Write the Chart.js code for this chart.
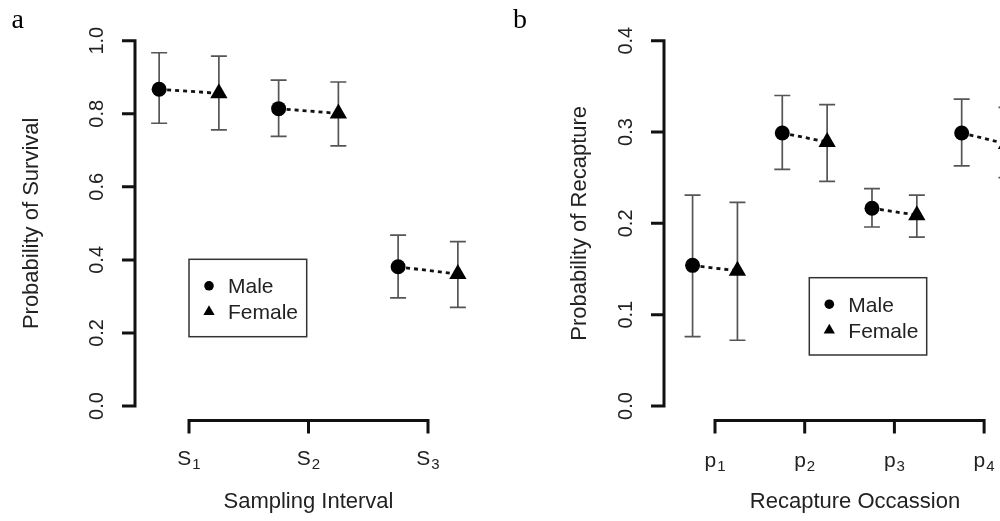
<!DOCTYPE html>
<html><head><meta charset="utf-8">
<script src="https://cdn.jsdelivr.net/npm/chart.js@4.4.1/dist/chart.umd.min.js"></script>
<style>
html,body{margin:0;padding:0;background:#fff;}
#wrap{position:relative;width:1000px;height:521px;overflow:hidden;background:#fff;}
canvas{position:absolute;top:0;}
</style></head><body>
<div id="wrap">
<canvas id="ca" width="500" height="521" style="left:0;width:500px;height:521px"></canvas>
<canvas id="cb" width="570" height="521" style="left:500px;width:570px;height:521px"></canvas>
</div>
<script>
// ---- Panel a: survival ----
const intervalPos = [1, 2, 3];
const intervalBase = ['S', 'S', 'S'];
const intervalSub = ['1', '2', '3'];
const survMale = [0.867, 0.814, 0.381];
const survMaleLo = [0.774, 0.738, 0.296];
const survMaleHi = [0.967, 0.892, 0.468];
const survFemale = [0.856, 0.801, 0.361];
const survFemaleLo = [0.756, 0.712, 0.270];
const survFemaleHi = [0.958, 0.887, 0.450];
const survTicks = [0, 0.2, 0.4, 0.6, 0.8, 1.0];
const survTickLabels = ['0.0', '0.2', '0.4', '0.6', '0.8', '1.0'];

// ---- Panel b: recapture ----
const occasionPos = [1, 2, 3, 4];
const occasionBase = ['p', 'p', 'p', 'p'];
const occasionSub = ['1', '2', '3', '4'];
const recMale = [0.154, 0.299, 0.2165, 0.299];
const recMaleLo = [0.076, 0.259, 0.196, 0.263];
const recMaleHi = [0.231, 0.340, 0.238, 0.336];
const recFemale = [0.148, 0.289, 0.209, 0.287];
const recFemaleLo = [0.072, 0.246, 0.185, 0.250];
const recFemaleHi = [0.223, 0.330, 0.231, 0.327];
const recTicks = [0, 0.1, 0.2, 0.3, 0.4];
const recTickLabels = ['0.0', '0.1', '0.2', '0.3', '0.4'];

const sexLabels = ['Male', 'Female'];
const OFF = 0.25;
const TXT = '#222';
const FONT = '"Liberation Sans", Arial, Helvetica, sans-serif';

const rStyle = {
  id: 'rStyle',
  beforeDatasetsDraw(chart, args, o) {
    const ctx = chart.ctx, xs = chart.scales.x, ys = chart.scales.y;
    ctx.save();
    ctx.strokeStyle = '#555';
    ctx.lineWidth = 1.7;
    chart.data.datasets.forEach(ds => {
      if (!ds.errLo) return;
      ds.data.forEach((p, i) => {
        const x = xs.getPixelForValue(p.x);
        const y1 = ys.getPixelForValue(ds.errLo[i]);
        const y2 = ys.getPixelForValue(ds.errHi[i]);
        ctx.beginPath();
        ctx.moveTo(x, y1); ctx.lineTo(x, y2);
        ctx.moveTo(x - 8, y1); ctx.lineTo(x + 8, y1);
        ctx.moveTo(x - 8, y2); ctx.lineTo(x + 8, y2);
        ctx.stroke();
      });
    });
    ctx.restore();
  },
  afterDraw(chart, args, o) {
    const ctx = chart.ctx, xs = chart.scales.x, ys = chart.scales.y, ca = chart.chartArea;
    ctx.save();
    // y axis
    ctx.strokeStyle = '#111';
    ctx.lineWidth = 3;
    ctx.lineCap = 'butt';
    const yTop = ys.getPixelForValue(o.yTicks[o.yTicks.length - 1]);
    const yBot = ys.getPixelForValue(o.yTicks[0]);
    ctx.beginPath();
    ctx.moveTo(ca.left, yBot + 1.5); ctx.lineTo(ca.left, yTop - 1.5);
    o.yTicks.forEach(v => {
      const y = ys.getPixelForValue(v);
      ctx.moveTo(ca.left, y); ctx.lineTo(ca.left - 13, y);
    });
    ctx.stroke();
    // x axis
    const xb = ca.bottom;
    const xL = xs.getPixelForValue(o.xTicks[0]);
    const xR = xs.getPixelForValue(o.xTicks[o.xTicks.length - 1]);
    ctx.beginPath();
    ctx.moveTo(xL - 1.5, xb); ctx.lineTo(xR + 1.5, xb);
    o.xTicks.forEach(v => {
      const x = xs.getPixelForValue(v);
      ctx.moveTo(x, xb); ctx.lineTo(x, xb + 13);
    });
    ctx.stroke();

    ctx.fillStyle = TXT;
    // y tick labels (rotated)
    ctx.font = '20px ' + FONT;
    ctx.textAlign = 'center';
    ctx.textBaseline = 'alphabetic';
    o.yTicks.forEach((v, i) => {
      const y = ys.getPixelForValue(v);
      ctx.save();
      ctx.translate(ca.left - 32.5, y);
      ctx.rotate(-Math.PI / 2);
      ctx.fillText(o.yLabels[i], 0, 0);
      ctx.restore();
    });
    // x tick labels with subscripts
    ctx.textAlign = 'left';
    o.xTicks.forEach((v, i) => {
      const x = xs.getPixelForValue(v);
      ctx.font = '21px ' + FONT;
      const wb = ctx.measureText(o.xBase[i]).width;
      ctx.font = '15px ' + FONT;
      const ws = ctx.measureText(o.xSub[i]).width;
      const x0 = x - (wb + ws + 1) / 2;
      ctx.font = '21px ' + FONT;
      ctx.fillText(o.xBase[i], x0, o.xLabelY);
      ctx.font = '15px ' + FONT;
      ctx.fillText(o.xSub[i], x0 + wb + 1, o.xLabelY + 4);
    });
    // axis titles
    ctx.font = '22px ' + FONT;
    ctx.textAlign = 'center';
    ctx.fillText(o.xTitle, (ca.left + ca.right) / 2, 507.5);
    ctx.save();
    ctx.translate(ca.left - o.yTitleOff, (ca.top + ca.bottom) / 2);
    ctx.rotate(-Math.PI / 2);
    ctx.fillText(o.yTitle, 0, 0);
    ctx.restore();

    // legend
    const L = o.legend;
    ctx.strokeStyle = '#333';
    ctx.lineWidth = 1.5;
    ctx.strokeRect(L.x, L.y, L.w, L.h);
    ctx.font = '21px ' + FONT;
    ctx.textAlign = 'left';
    ctx.fillStyle = TXT;
    sexLabels.forEach((lab, i) => {
      const by = L.y + 34 + i * 26;
      ctx.fillText(lab, L.x + 39, by);
    });
    ctx.fillStyle = '#000';
    const mx = L.x + 20;
    ctx.beginPath();
    ctx.arc(mx, L.y + 26.5, 4.8, 0, Math.PI * 2);
    ctx.fill();
    const ty = L.y + 52.5, r = 6.5;
    ctx.beginPath();
    ctx.moveTo(mx, ty - r);
    ctx.lineTo(mx + r * Math.sin(2 * Math.PI / 3), ty - r * Math.cos(2 * Math.PI / 3));
    ctx.lineTo(mx + r * Math.sin(4 * Math.PI / 3), ty - r * Math.cos(4 * Math.PI / 3));
    ctx.closePath();
    ctx.fill();

    // panel letter
    ctx.fillStyle = '#000';
    ctx.font = '28px "Liberation Serif", "Times New Roman", serif';
    ctx.fillText(o.letter, o.letterX, 28);
    ctx.restore();
  }
};

function makePanel(id, cfg) {
  const male = cfg.pos.map((p, i) => ({ x: p - OFF, y: cfg.male[i] }));
  const female = cfg.pos.map((p, i) => ({ x: p + OFF, y: cfg.female[i] }));
  const conn = [];
  cfg.pos.forEach((p, i) => {
    conn.push({ x: p - OFF, y: cfg.male[i] });
    conn.push({ x: p + OFF, y: cfg.female[i] });
    conn.push({ x: p + 0.5, y: null });
  });
  return new Chart(document.getElementById(id), {
    type: 'scatter',
    data: {
      datasets: [
        { label: sexLabels[0], data: male, errLo: cfg.maleLo, errHi: cfg.maleHi,
          pointStyle: 'circle', pointRadius: 7.5, pointHoverRadius: 7.5,
          backgroundColor: '#000', borderColor: '#000', borderWidth: 0, order: 0 },
        { label: sexLabels[1], data: female, errLo: cfg.femaleLo, errHi: cfg.femaleHi,
          pointStyle: 'triangle', pointRadius: 10, pointHoverRadius: 10,
          backgroundColor: '#000', borderColor: '#000', borderWidth: 0, order: 0 },
        { type: 'line', label: 'link', data: conn, borderColor: '#111', borderWidth: 2.8,
          borderDash: [4, 4], pointRadius: 0, spanGaps: false, fill: false, order: 5 }
      ]
    },
    options: {
      responsive: false,
      animation: false,
      devicePixelRatio: 1,
      layout: { autoPadding: false, padding: cfg.padding },
      plugins: {
        legend: { display: false },
        tooltip: { enabled: false },
        rStyle: {
          yTicks: cfg.yTicks, yLabels: cfg.yLabels,
          xTicks: cfg.pos, xBase: cfg.xBase, xSub: cfg.xSub, xLabelY: cfg.xLabelY,
          xTitle: cfg.xTitle, yTitle: cfg.yTitle, yTitleOff: cfg.yTitleOff,
          legend: cfg.legend, letter: cfg.letter, letterX: cfg.letterX
        }
      },
      scales: {
        x: { type: 'linear', display: false, min: cfg.xMin, max: cfg.xMax },
        y: { type: 'linear', display: false, min: cfg.yMin, max: cfg.yMax }
      }
    },
    plugins: [rStyle]
  });
}

makePanel('ca', {
  pos: intervalPos, xBase: intervalBase, xSub: intervalSub,
  male: survMale, maleLo: survMaleLo, maleHi: survMaleHi,
  female: survFemale, femaleLo: survFemaleLo, femaleHi: survFemaleHi,
  yTicks: survTicks, yLabels: survTickLabels,
  xMin: 0.548, xMax: 3.452, yMin: -0.04, yMax: 1.04,
  padding: { left: 135, right: 18, top: 26.1, bottom: 100.4 },
  xLabelY: 465,
  xTitle: 'Sampling Interval', yTitle: 'Probability of Survival', yTitleOff: 97.5,
  legend: { x: 189, y: 259.3, w: 117.7, h: 77.4 },
  letter: 'a', letterX: 11.5
});

makePanel('cb', {
  pos: occasionPos, xBase: occasionBase, xSub: occasionSub,
  male: recMale, maleLo: recMaleLo, maleHi: recMaleHi,
  female: recFemale, femaleLo: recFemaleLo, femaleHi: recFemaleHi,
  yTicks: recTicks, yLabels: recTickLabels,
  xMin: 0.4314, xMax: 4.690, yMin: -0.016, yMax: 0.416,
  padding: { left: 164, right: 24, top: 26.1, bottom: 100.4 },
  xLabelY: 467,
  xTitle: 'Recapture Occassion', yTitle: 'Probability of Recapture', yTitleOff: 78,
  legend: { x: 309.3, y: 277.7, w: 117.4, h: 77.3 },
  letter: 'b', letterX: 13
});
</script>
</body></html>
